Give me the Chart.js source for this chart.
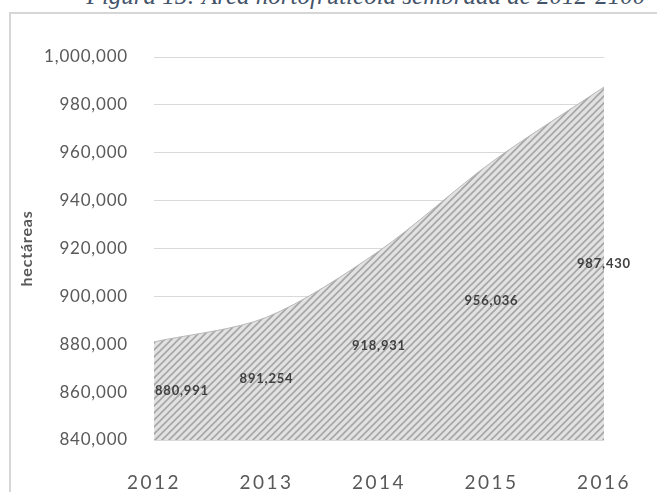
<!DOCTYPE html>
<html>
<head>
<meta charset="utf-8">
<script src="https://cdn.jsdelivr.net/npm/chart.js@4.4.1/dist/chart.umd.min.js"></script>
<style>
  html, body { margin: 0; padding: 0; background: #fff; overflow: hidden; }
  #wrap { position: relative; width: 657px; height: 492px; }
  #titulo {
    position: absolute; left: 0; right: 0; top: -18px;
    text-align: center; padding-left: 75px;
    font-family: "Liberation Serif", serif; font-style: italic;
    font-size: 25px; color: #44546a; white-space: nowrap;
  }
  #marco {
    position: absolute; left: 9px; top: 12px; right: -5px; bottom: -5px;
    border-left: 2px solid #d6d6d6; border-top: 2px solid #d6d6d6;
  }
  #grafico { position: absolute; left: 0; top: 0; }
</style>
</head>
<body>
<div id="wrap">
  <div id="titulo">Figura 15: Área hortofrutícola sembrada de 2012-2100</div>
  <div id="marco"></div>
  <canvas id="grafico" width="657" height="492"></canvas>
</div>
<script>
// Datos: área hortofrutícola sembrada (hectáreas)
const anios = ['2012', '2013', '2014', '2015', '2016'];
const hectareas = [880991, 891254, 918931, 956036, 987430];
const ejeMin = 840000;
const ejeMax = 1000000;
const ejePaso = 20000;

const fmt = v => Number(v).toLocaleString('en-US');

// Relleno rayado diagonal
function crearRayado() {
    const c = document.createElement('canvas');
    const n = 7;
    c.width = n; c.height = n;
    const g = c.getContext('2d');
    g.fillStyle = '#e2e2e2';
    g.fillRect(0, 0, n, n);
    g.strokeStyle = '#a6a6a6';
    g.lineWidth = 1.6;
    g.beginPath();
    g.moveTo(0, n); g.lineTo(n, 0);
    g.moveTo(-1, 1); g.lineTo(1, -1);
    g.moveTo(n - 1, n + 1); g.lineTo(n + 1, n - 1);
    g.stroke();
    return g.createPattern(c, 'repeat');
}

// Espaciado de letras para los ejes
const espaciado = {
    id: 'espaciado',
    beforeDraw(chart) { chart.ctx.letterSpacing = '0.8px'; },
    afterDatasetsDraw(chart) { chart.ctx.letterSpacing = '2.5px'; },
    afterDraw(chart) { chart.ctx.letterSpacing = '0px'; }
};

// Etiquetas de valor dentro del área
const etiquetas = {
    id: 'etiquetas',
    afterDatasetsDraw(chart) {
        const ctx = chart.ctx;
        const meta = chart.getDatasetMeta(0);
        const y = chart.scales.y;
        const area = chart.chartArea;
        ctx.save();
        ctx.letterSpacing = '0.8px';
        ctx.font = 'bold 13px Lato';
        ctx.fillStyle = '#404040';
        ctx.textAlign = 'center';
        ctx.textBaseline = 'middle';
        hectareas.forEach((v, i) => {
            const txt = fmt(v);
            const w = ctx.measureText(txt).width;
            const px = Math.max(meta.data[i].x, area.left + w / 2 + 1);
            const py = (y.getPixelForValue(v) + y.getPixelForValue(ejeMin)) / 2;
            ctx.fillText(txt, px, py);
        });
        ctx.restore();
    }
};

const ctx = document.getElementById('grafico').getContext('2d');
new Chart(ctx, {
    type: 'line',
    data: {
        labels: anios,
        datasets: [{
            label: 'hectáreas',
            data: hectareas,
            fill: 'start',
            backgroundColor: crearRayado(),
            borderColor: '#b8b8b8',
            borderWidth: 1,
            pointRadius: 0,
            tension: 0.3
        }]
    },
    options: {
        responsive: false,
        animation: false,
        layout: { padding: { left: 0, right: 30, top: 57, bottom: 0 } },
        plugins: {
            legend: { display: false },
            tooltip: { enabled: false }
        },
        scales: {
            x: {
                offset: false,
                grid: { display: false, drawTicks: false },
                border: { display: false },
                ticks: {
                    z: 1,
                    padding: 31,
                    color: '#595959',
                    font: { family: 'Lato', size: 19 },
                    maxRotation: 0
                },
                afterFit(scale) { scale.height = 52; }
            },
            y: {
                min: ejeMin,
                max: ejeMax,
                grid: { color: '#d9d9d9', lineWidth: 1, drawTicks: false },
                border: { display: false },
                ticks: {
                    stepSize: ejePaso,
                    padding: 26,
                    color: '#595959',
                    font: { family: 'Lato', size: 17 },
                    callback: v => fmt(v)
                },
                title: {
                    display: true,
                    text: 'hectáreas',
                    color: '#595959',
                    font: { family: 'Lato', size: 16, weight: 'bold' },
                    padding: { top: 17, bottom: 0 }
                },
                afterFit(scale) { scale.width = 154; }
            }
        }
    },
    plugins: [espaciado, etiquetas]
});
</script>
</body>
</html>
